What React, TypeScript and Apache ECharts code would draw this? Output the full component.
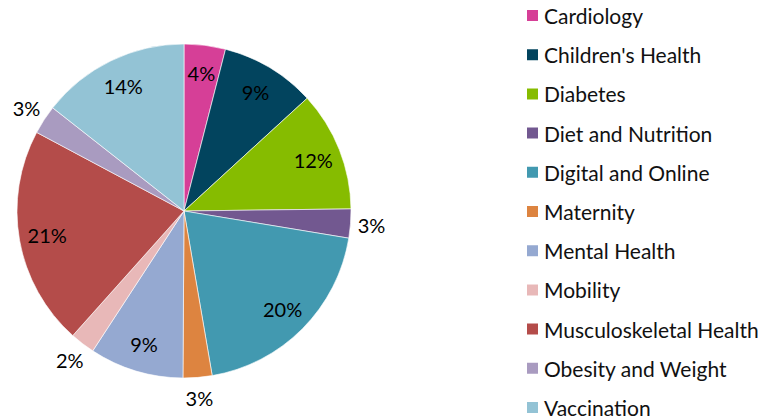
import React, { useEffect, useRef } from "react";
import * as echarts from "echarts";

const categories = [
  "Cardiology",
  "Children's Health",
  "Diabetes",
  "Diet and Nutrition",
  "Digital and Online",
  "Maternity",
  "Mental Health",
  "Mobility",
  "Musculoskeletal Health",
  "Obesity and Weight",
  "Vaccination",
];
const shares = [4.0, 9.2, 11.6, 2.8, 19.7, 2.8, 9.1, 2.4, 21.2, 2.8, 14.4];
const colors = [
  "#D63F97",
  "#02445E",
  "#86BC00",
  "#725890",
  "#4299B0",
  "#DD8440",
  "#95A9D1",
  "#E8B8B8",
  "#B44C4A",
  "#A99BC0",
  "#93C3D5",
];

const FONT = "Lato, 'Open Sans', sans-serif";

export default function App() {
  const ref = useRef<HTMLDivElement>(null);
  useEffect(() => {
    document.body.style.margin = "0";
    if (!ref.current) return;
    const chart = echarts.init(ref.current, undefined, { renderer: "svg" });
    const total = shares.reduce((a, b) => a + b, 0);
    const fmt = (p: any) => Math.round((p.value / total) * 100) + "%";
    const isSmall = (v: number) => (v / total) * 100 < 3.5;
    const center = [184, 211];
    const labelStyle = { fontFamily: FONT, fontSize: 20, color: "#000" };
    chart.setOption({
      animation: false,
      color: colors,
      legend: {
        orient: "vertical",
        left: 525,
        top: 5,
        height: 440,
        padding: 0,
        itemWidth: 13,
        itemHeight: 13,
        itemGap: 18.2,
        icon: "rect",
        data: categories,
        textStyle: { fontFamily: FONT, fontSize: 21, color: "#111", lineHeight: 20 },
      },
      series: [
        {
          type: "pie",
          center,
          radius: [0, 167],
          startAngle: 90,
          clockwise: true,
          label: { show: false },
          labelLine: { show: false },
          itemStyle: { borderColor: "#fff", borderWidth: 0.6 },
          emphasis: { disabled: true },
          data: categories.map((c, i) => ({ name: c, value: shares[i] })),
        },
        {
          type: "pie",
          center,
          radius: [105, 167],
          startAngle: 90,
          silent: true,
          legendHoverLink: false,
          itemStyle: { color: "transparent" },
          labelLine: { show: false },
          emphasis: { disabled: true },
          label: { position: "inside", formatter: fmt, ...labelStyle },
          data: categories.map((c, i) => ({
            name: c,
            value: shares[i],
            label: { show: !isSmall(shares[i]) },
          })),
        },
        {
          type: "pie",
          center,
          radius: [166, 204],
          startAngle: 90,
          silent: true,
          legendHoverLink: false,
          itemStyle: { color: "transparent" },
          labelLine: { show: false },
          emphasis: { disabled: true },
          label: { position: "inside", formatter: fmt, ...labelStyle },
          data: categories.map((c, i) => ({
            name: c,
            value: shares[i],
            label: { show: isSmall(shares[i]) },
          })),
        },
      ],
    });
    return () => chart.dispose();
  }, []);
  return <div ref={ref} style={{ width: 771, height: 420 }} />;
}
